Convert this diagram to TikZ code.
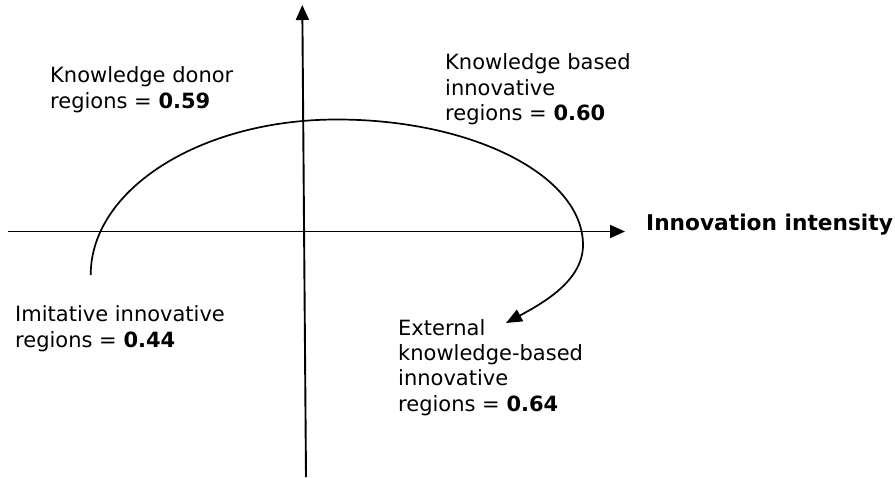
\documentclass[tikz,border=0pt]{standalone}
\usepackage{fontspec}
\setmainfont{DejaVu Sans}
\usetikzlibrary{arrows.meta}
\begin{document}
\begin{tikzpicture}[x=1pt,y=-1pt,
  axis/.style={line width=1.9pt,-{Triangle[length=15pt,width=13pt]}},
  cycleline/.style={line width=1.7pt,-{Triangle[length=16pt,width=13pt]}},
  lbl/.style={anchor=base west,inner sep=0pt,align=left,
    font=\fontsize{21}{25.3}\selectfont}]
\useasboundingbox (0,0) rectangle (895,477);
% axes
\coordinate (xs) at (8,231.5);
\coordinate (xe) at (625,231.5);
\coordinate (ys) at (306,477);
\coordinate (ye) at (302.3,5);
\draw[axis] (xs) -- (xe);
\draw[axis] (ys) -- (ye);
% curve
\coordinate (cs) at (90.7,275);
\coordinate (ctop) at (337,119.5);
\coordinate (cr) at (583,245);
\coordinate (cend) at (506,323);
\draw[cycleline] (cs) .. controls (90.7,189.1) and (200.9,119.5) .. (ctop)
  .. controls (472.9,119.5) and (583,175.7) .. (cr)
  .. controls (583,280) and (545,302) .. (cend);
% labels (anchored at the baseline of the last line)
\node[lbl] (kd) at (50,108) {Knowledge donor\\regions = \textbf{0.59}};
\node[lbl] (kb) at (445,120.5) {Knowledge based\\innovative\\regions = \textbf{0.60}};
\node[lbl] (im) at (15,347) {Imitative innovative\\regions = \textbf{0.44}};
\node[lbl] (ex) at (398,411) {External\\knowledge-based\\innovative\\regions = \textbf{0.64}};
\node[lbl,font=\fontsize{21.7}{25.3}\selectfont\bfseries] (ii) at (646,230.7) {Innovation intensity};
\end{tikzpicture}
\end{document}
